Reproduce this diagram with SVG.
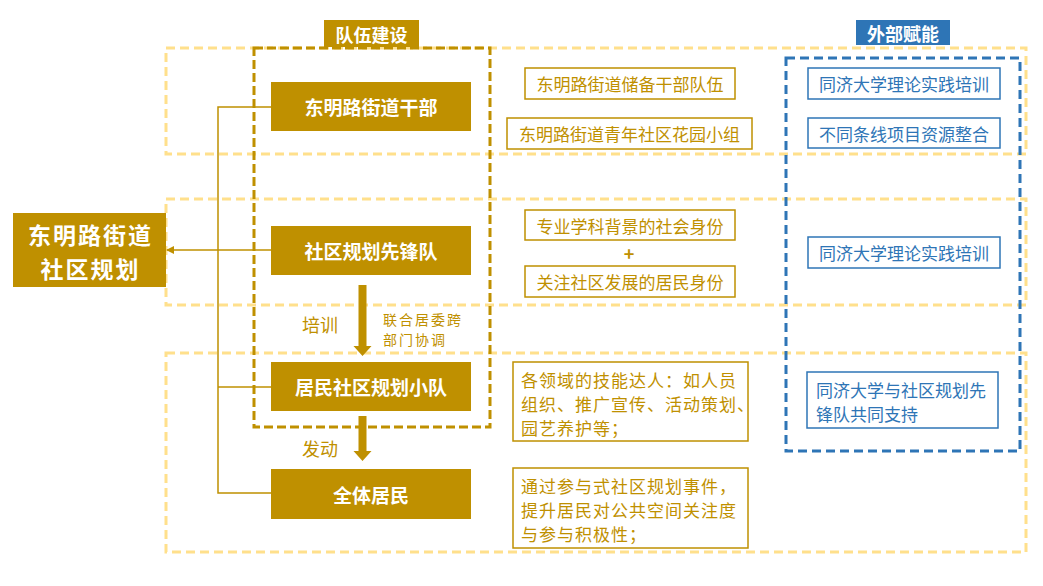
<svg xmlns="http://www.w3.org/2000/svg" width="1043" height="586" viewBox="0 0 1043 586">
<defs>
<style>
text{font-family:"Noto Sans CJK SC","Noto Sans",sans-serif;}
.band{fill:none;stroke:#FFE08C;stroke-width:3;stroke-dasharray:9 5;}
.team{fill:none;stroke:#BF9000;stroke-width:3;stroke-dasharray:9 4;}
.ext{fill:none;stroke:#2E75B6;stroke-width:3;stroke-dasharray:9 5;}
.node{fill:#BF9000;}
.ntext{fill:#fff;font-size:19px;font-weight:bold;text-anchor:middle;dominant-baseline:central;}
.mtext{fill:#fff;font-size:23px;font-weight:bold;text-anchor:middle;dominant-baseline:central;letter-spacing:2px;}
.gbox{fill:#fff;stroke:#BF9000;stroke-width:1.5;}
.gtext{fill:#BF9000;font-size:17px;dominant-baseline:central;}
.bbox{fill:#fff;stroke:#2E75B6;stroke-width:1.5;}
.btext{fill:#2E75B6;font-size:17px;dominant-baseline:central;}
.conn{fill:none;stroke:#BF9000;stroke-width:1.5;}
.lbl{fill:#BF9000;dominant-baseline:central;}
</style>
<marker id="ah" markerWidth="8" markerHeight="8" refX="7" refY="4" orient="auto" markerUnits="userSpaceOnUse">
<path d="M0,0 L8,4 L0,8 Z" fill="#BF9000"/>
</marker>
</defs>
<rect width="1043" height="586" fill="#fff"/>

<g id="bands">
<rect class="band" x="166" y="48" width="860" height="106"/>
<rect class="band" x="166" y="199" width="860" height="106"/>
<rect class="band" x="166" y="353" width="860" height="199"/>
</g>

<g id="team-group">
<rect class="team" x="254" y="48" width="236" height="379"/>
<rect x="324" y="20" width="95" height="27" fill="#BF9000"/>
<text x="371.5" y="33.5" fill="#fff" font-size="18" font-weight="bold" text-anchor="middle" dominant-baseline="central">队伍建设</text>
</g>

<g id="ext-group">
<rect class="ext" x="786" y="58" width="234" height="393"/>
<rect x="856" y="20" width="94" height="25" fill="#2E75B6"/>
<text x="903" y="32.5" fill="#fff" font-size="18" font-weight="bold" text-anchor="middle" dominant-baseline="central">外部赋能</text>
</g>

<g id="connectors">
<path class="conn" d="M271,107 H218 V493 H271"/>
<path class="conn" d="M218,387 H271"/>
<path class="conn" d="M271,250 H167" marker-end="url(#ah)"/>
<path d="M358.5,285 H366.5 V346 H371.5 L362.5,356 L353.5,346 H358.5 Z" fill="#BF9000"/>
<path d="M358.5,416 H366.5 V451 H371.5 L362.5,461 L353.5,451 H358.5 Z" fill="#BF9000"/>
<text class="lbl" x="302" y="324" font-size="18">培训</text>
<text class="lbl" x="383" y="319" font-size="14" letter-spacing="2">联合居委跨</text>
<text class="lbl" x="383" y="339" font-size="14" letter-spacing="2">部门协调</text>
<text class="lbl" x="302" y="448" font-size="18">发动</text>
</g>

<g id="main">
<rect class="node" x="13" y="213" width="153" height="74"/>
<text class="mtext" x="90.5" y="234">东明路街道</text>
<text class="mtext" x="90.5" y="268">社区规划</text>
</g>

<g id="n1">
<rect class="node" x="271" y="82" width="200" height="49"/>
<text class="ntext" x="371" y="106.5">东明路街道干部</text>
</g>
<g id="n2">
<rect class="node" x="271" y="226" width="200" height="49"/>
<text class="ntext" x="371" y="250.5">社区规划先锋队</text>
</g>
<g id="n3">
<rect class="node" x="271" y="362" width="200" height="49"/>
<text class="ntext" x="371" y="386.5">居民社区规划小队</text>
</g>
<g id="n4">
<rect class="node" x="271" y="469" width="200" height="50"/>
<text class="ntext" x="371" y="494">全体居民</text>
</g>

<g id="g1">
<rect class="gbox" x="525" y="68" width="210" height="31"/>
<text class="gtext" x="630" y="83.5" text-anchor="middle">东明路街道储备干部队伍</text>
</g>
<g id="g2">
<rect class="gbox" x="507" y="118" width="245" height="31"/>
<text class="gtext" x="629.5" y="133.5" text-anchor="middle">东明路街道青年社区花园小组</text>
</g>
<g id="g3">
<rect class="gbox" x="525" y="210" width="210" height="30"/>
<text class="gtext" x="630" y="225" text-anchor="middle">专业学科背景的社会身份</text>
</g>
<text id="plus" x="629" y="253" fill="#BF9000" font-size="18" font-weight="bold" text-anchor="middle" dominant-baseline="central" font-family="Liberation Sans, sans-serif">+</text>
<g id="g4">
<rect class="gbox" x="525" y="266" width="210" height="31"/>
<text class="gtext" x="630" y="281.5" text-anchor="middle">关注社区发展的居民身份</text>
</g>
<g id="g5">
<rect class="gbox" x="513" y="362" width="235" height="79"/>
<text class="gtext" x="521" y="379" letter-spacing="1">各领域的技能达人：如人员</text>
<text class="gtext" x="521" y="403" letter-spacing="1">组织、推广宣传、活动策划、</text>
<text class="gtext" x="521" y="427" letter-spacing="1">园艺养护等；</text>
</g>
<g id="g6">
<rect class="gbox" x="513" y="468" width="235" height="80"/>
<text class="gtext" x="521" y="485" letter-spacing="1">通过参与式社区规划事件，</text>
<text class="gtext" x="521" y="509" letter-spacing="1">提升居民对公共空间关注度</text>
<text class="gtext" x="521" y="533" letter-spacing="1">与参与积极性；</text>
</g>

<g id="b1">
<rect class="bbox" x="808" y="68" width="192" height="31"/>
<text class="btext" x="904" y="83.5" text-anchor="middle">同济大学理论实践培训</text>
</g>
<g id="b2">
<rect class="bbox" x="808" y="118" width="192" height="30"/>
<text class="btext" x="904" y="133" text-anchor="middle">不同条线项目资源整合</text>
</g>
<g id="b3">
<rect class="bbox" x="808" y="237" width="192" height="31"/>
<text class="btext" x="904" y="252.5" text-anchor="middle">同济大学理论实践培训</text>
</g>
<g id="b4">
<rect class="bbox" x="807" y="372" width="191" height="56"/>
<text class="btext" x="816" y="389">同济大学与社区规划先</text>
<text class="btext" x="816" y="413">锋队共同支持</text>
</g>
</svg>
